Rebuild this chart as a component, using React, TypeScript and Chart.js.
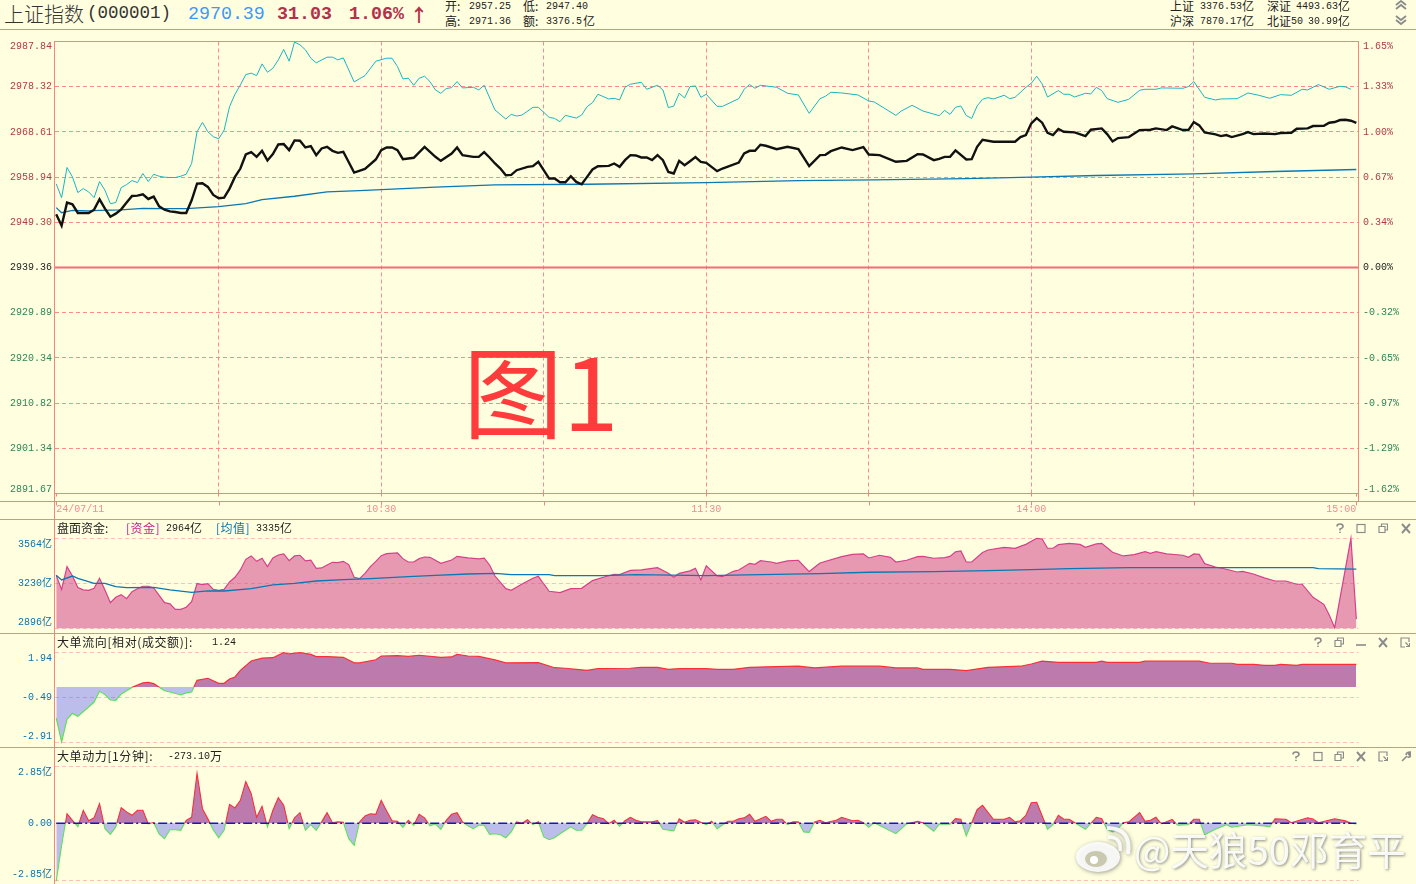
import React, { useEffect, useRef } from "react";
import { Chart, registerables } from "chart.js";

Chart.register(...registerables);

/* ---------- main panel ---------- */
const priceTickLabels = ["2987.84", "2978.32", "2968.61", "2958.94", "2949.30", "2939.36", "2929.89", "2920.34", "2910.82", "2901.34", "2891.67"];
const pctTickLabels = ["1.65%", "1.33%", "1.00%", "0.67%", "0.34%", "0.00%", "-0.32%", "-0.65%", "-0.97%", "-1.29%", "-1.62%"];
const prevClose = 2939.36;
const priceTop = 2987.84;

const xTickMinutes = [0, 30, 60, 90, 120, 150, 180, 210, 240];
const xTickLabels = ["24/07/11", "", "10:30", "", "11:30", "", "14:00", "", "15:00"];

const leaderMinutes = [0,1,2,3,4,5,6,7,8,9,10,11,12,13,14,15,16,17,18,19,20,21,22,23,24,25,26,27,28,29,30,31,32,33,34,35,36,37,38,39,40,41,42,43,44,45,46,47,48,50,51,52,53,55,57,59,61,62,63,64,65,66,67,68,69,70,71,72,73,74,75,77,78,79,81,83,84,85,86,88,89,91,92,93,94,96,97,98,99,100,102,103,104,105,106,108,109,111,112,113,114,115,116,117,118,119,120,122,123,126,127,128,129,130,133,135,137,139,141,142,143,145,148,150,151,155,156,158,160,163,164,165,166,167,168,169,170,171,172,173,175,176,177,179,180,181,182,183,185,186,187,188,190,191,192,193,194,196,198,200,201,203,204,208,209,210,212,214,215,218,220,222,224,226,228,230,231,233,235,237,238,239];
const leaderValues = [2957.29,2954.35,2960.81,2958.8,2955.43,2956.29,2955.57,2954.35,2957.79,2955.93,2953.06,2953.28,2956.5,2957.15,2958.01,2957.58,2959.52,2957.79,2959.37,2958.94,2958.73,2958.66,2958.66,2958.94,2959.37,2961.67,2968.48,2970.49,2968.48,2967.41,2966.98,2968.84,2973.86,2976.52,2978.52,2980.75,2981.04,2980.53,2983.04,2981.25,2982.11,2983.9,2986.13,2983.62,2987.71,2987.13,2986.06,2984.26,2983.26,2984.48,2984.48,2983.9,2984.33,2979.17,2980.53,2983.62,2984.26,2984.26,2982.47,2979.82,2979.96,2978.45,2979.96,2980.39,2979.24,2977.45,2976.73,2977.74,2977.95,2979.24,2977.88,2978.02,2977.45,2978.45,2973.14,2971.21,2972.21,2971.85,2972.07,2973.72,2973.72,2971.57,2971.35,2970.63,2972.0,2971.42,2972.07,2973.86,2974.72,2976.52,2975.51,2975.66,2975.3,2978.02,2978.67,2979.1,2977.59,2978.45,2977.45,2973.65,2974.01,2976.73,2975.73,2978.17,2978.31,2975.87,2976.52,2973.93,2973.93,2975.58,2977.59,2978.6,2977.81,2978.45,2978.02,2976.73,2976.37,2972.43,2975.58,2976.09,2976.95,2976.8,2976.37,2975.08,2974.87,2972.0,2972.93,2974.15,2972.93,2971.93,2973.07,2972.21,2973.72,2974.01,2971.93,2971.35,2974.01,2975.44,2975.8,2975.51,2976.3,2975.58,2975.87,2978.02,2978.88,2980.39,2978.74,2975.94,2977.31,2976.52,2976.52,2975.94,2976.73,2976.59,2978.02,2977.31,2975.58,2974.79,2975.44,2977.38,2977.59,2977.59,2977.88,2977.81,2978.17,2979.24,2975.87,2975.3,2975.51,2975.58,2976.8,2976.3,2975.66,2976.44,2976.3,2977.59,2977.45,2978.6,2977.59,2978.24,2978.09,2977.59];

const indexMinutes = [0,1,2,3,4,5,6,7,8,9,10,11,12,13,14,15,16,17,18,19,20,21,22,23,24,25,26,27,28,29,30,31,32,33,34,35,36,37,38,39,40,41,42,43,44,45,46,47,48,49,50,51,52,53,55,57,59,60,61,62,63,64,65,66,68,70,71,73,74,75,77,78,79,80,81,82,83,84,85,87,88,89,91,92,93,94,95,96,97,98,99,100,102,103,104,105,106,107,108,109,110,111,112,113,114,115,116,117,118,119,120,122,123,126,127,128,129,130,131,133,135,137,139,141,142,143,145,147,149,150,152,155,157,159,160,162,163,164,165,166,168,169,170,171,173,177,178,179,180,181,182,183,184,185,186,188,190,191,193,194,195,196,198,200,202,203,205,206,208,209,210,211,212,214,215,216,217,219,220,221,223,225,226,228,229,231,232,234,235,236,237,238,239,240];
const indexValues = [2950.77,2948.33,2953.28,2952.92,2951.05,2951.05,2951.05,2951.77,2953.99,2951.98,2950.26,2950.91,2951.84,2953.28,2954.71,2954.78,2955.07,2954.06,2954.57,2952.49,2951.77,2951.41,2951.27,2951.05,2951.05,2953.78,2957.36,2957.44,2956.65,2954.93,2954.21,2954.35,2956.29,2958.8,2960.59,2963.6,2964.11,2963.1,2964.39,2962.31,2963.68,2965.76,2965.83,2964.54,2966.62,2966.55,2965.11,2965.4,2963.46,2964.9,2965.25,2964.39,2963.96,2964.18,2959.73,2960.52,2962.53,2964.54,2965.11,2965.11,2964.54,2962.6,2962.74,2962.89,2965.25,2963.1,2962.24,2963.82,2965.11,2963.46,2963.1,2963.1,2964.11,2962.96,2961.67,2960.59,2959.16,2959.23,2960.23,2960.95,2961.09,2962.03,2958.44,2958.44,2957.65,2957.65,2958.94,2957.72,2957.22,2958.8,2960.38,2961.09,2961.17,2961.67,2960.95,2962.39,2963.46,2963.39,2962.96,2962.96,2962.39,2963.46,2962.39,2959.87,2959.52,2962.24,2961.31,2962.17,2963.03,2962.03,2961.81,2960.02,2960.59,2961.88,2963.82,2964.39,2964.39,2965.69,2965.47,2964.75,2965.25,2964.75,2961.09,2963.46,2963.53,2964.32,2965.11,2964.54,2965.18,2963.6,2963.46,2962.03,2962.24,2963.68,2963.6,2962.39,2962.67,2963.1,2963.1,2964.47,2962.53,2962.6,2965.25,2966.76,2966.33,2966.33,2967.33,2967.77,2970.28,2971.42,2970.42,2968.27,2967.77,2969.06,2968.48,2968.34,2967.55,2968.91,2969.2,2967.98,2966.4,2967.12,2967.33,2968.84,2968.91,2969.2,2968.84,2969.63,2968.84,2968.84,2970.56,2969.85,2968.34,2967.91,2967.55,2967.77,2967.33,2967.98,2968.41,2967.98,2968.12,2967.98,2968.2,2968.27,2969.13,2969.2,2969.7,2969.77,2970.42,2970.56,2970.99,2971.06,2970.85,2970.39];

const avgMinutes = [0,1,3,6,8,12,16,20,24,30,35,38,44,50,56,60,70,81,98,120,137,151,168,180,192,210,225,240];
const avgValues = [2952.2,2951.12,2951.63,2951.49,2951.63,2951.7,2952.06,2951.99,2951.99,2952.41,2953.06,2953.92,2954.64,2955.57,2955.86,2956.07,2956.58,2957.08,2957.22,2957.58,2958.01,2958.15,2958.44,2958.73,2959.09,2959.44,2959.95,2960.38];

/* ---------- funds panel ---------- */
const fundTicks = [3564, 3230, 2896];
const fundTickLabels = ["3564亿", "3230亿", "2896亿"];
const fundMinutes = [0,1,2,3,4,5,6,7,8,9,10,11,12,13,14,15,16,17,18,19,20,21,22,23,24,25,26,27,28,29,30,31,32,33,34,35,36,37,38,39,40,41,42,43,44,45,46,47,48,49,50,51,52,53,54,55,56,57,58,59,60,61,63,64,65,66,67,68,69,71,73,74,76,78,79,80,81,83,84,86,88,89,90,91,93,95,97,99,101,103,104,106,108,110,111,113,114,115,117,118,119,120,122,123,125,126,128,129,130,132,133,135,137,139,141,145,147,149,150,152,154,155,157,159,160,162,164,165,166,167,168,169,171,172,175,177,179,181,182,183,184,185,187,189,190,192,193,195,197,199,201,202,203,205,208,209,210,211,212,214,216,218,219,221,223,225,227,229,230,232,234,235,236,239,240];
const fundValues = [3289,3185,3354,3284,3198,3181,3178,3193,3267,3181,3086,3126,3146,3116,3168,3190,3208,3208,3195,3141,3086,3077,3037,3037,3052,3094,3228,3220,3228,3185,3178,3185,3240,3275,3329,3408,3433,3393,3416,3354,3418,3440,3448,3398,3433,3438,3396,3401,3341,3344,3366,3386,3383,3393,3369,3275,3265,3304,3354,3393,3435,3450,3455,3413,3388,3388,3413,3425,3423,3378,3403,3430,3418,3411,3416,3366,3284,3190,3178,3225,3267,3282,3225,3171,3161,3190,3193,3250,3275,3297,3294,3326,3329,3341,3346,3304,3275,3304,3322,3341,3255,3359,3284,3279,3319,3329,3378,3371,3398,3388,3378,3396,3401,3317,3381,3428,3445,3448,3418,3438,3423,3388,3401,3428,3430,3416,3420,3430,3463,3470,3388,3388,3458,3477,3497,3490,3519,3564,3559,3490,3490,3517,3527,3519,3497,3522,3527,3460,3433,3443,3465,3453,3465,3448,3438,3423,3448,3445,3376,3351,3334,3314,3319,3299,3270,3247,3247,3223,3223,3126,3074,2995,2901,3564,2964];
const fundAvgMinutes = [0,1,3,4,7,9,11,13,18,21,25,28,31,36,40,44,48,53,58,65,70,76,81,84,91,92,101,107,120,130,141,150,162,172,180,187,198,232,233,240];
const fundAvgValues = [3289,3255,3284,3267,3230,3230,3205,3198,3200,3181,3163,3173,3173,3190,3218,3230,3247,3257,3265,3279,3289,3299,3304,3294,3294,3287,3287,3294,3287,3294,3302,3312,3317,3324,3331,3339,3346,3346,3339,3335];

/* ---------- flow panel ---------- */
const flowTicks = [1.94, -0.49, -2.91];
const flowTickLabels = ["1.94", "-0.49", "-2.91"];
const flowBase = 0.07;
const flowMinutes = [0,1,2,3,4,6,7,8,9,10,11,12,13,14,16,17,18,20,21,23,24,25,26,28,30,31,32,33,34,36,38,40,42,43,45,47,48,50,53,55,56,59,60,63,65,67,71,73,74,76,78,81,83,89,92,94,96,98,100,106,108,111,113,115,120,122,125,128,133,137,140,145,152,155,159,160,165,168,172,178,180,182,185,192,193,194,200,201,211,213,217,218,221,223,225,226,229,230,240];
const flowValues = [-1.6,-2.89,-1.67,-1.35,-1.51,-1.01,-0.74,-0.16,-0.34,-0.63,-0.65,-0.31,-0.13,0.05,0.29,0.32,0.25,-0.13,-0.2,-0.36,-0.25,-0.2,0.43,0.54,0.27,0.27,0.5,0.61,0.97,1.47,1.63,1.65,1.92,1.85,1.92,1.83,1.71,1.71,1.67,1.37,1.37,1.54,1.74,1.76,1.72,1.78,1.67,1.69,1.83,1.74,1.72,1.53,1.37,1.38,1.11,1.08,1.02,0.97,1.06,1.08,1.13,1.13,1.02,1.06,1.06,1.02,1.02,1.13,1.17,1.19,1.1,1.19,1.19,1.1,1.1,1.02,1.02,0.95,1.13,1.19,1.31,1.46,1.4,1.4,1.46,1.4,1.4,1.46,1.46,1.35,1.35,1.29,1.29,1.24,1.24,1.29,1.24,1.29,1.29];

/* ---------- power panel ---------- */
const powerTicks = [2.85, 0, -2.85];
const powerTickLabels = ["2.85亿", "0.00", "-2.85亿"];
const powerMinutes = [0,1,2,3,4,5,6,7,8,9,10,11,12,13,14,15,16,17,18,19,20,21,22,23,24,25,26,27,28,29,30,31,32,33,34,35,36,37,38,39,40,41,42,43,44,45,46,47,48,49,50,51,52,53,54,55,56,57,58,59,60,61,62,63,64,65,66,67,68,69,70,71,72,73,74,75,76,77,78,79,80,81,82,83,84,85,86,87,88,89,90,91,92,93,95,96,97,98,99,100,101,102,103,104,105,106,107,108,110,111,112,114,115,116,117,118,120,121,122,124,125,126,127,128,129,131,132,133,134,135,136,137,138,139,140,141,142,144,145,147,148,149,150,151,155,157,159,160,162,163,165,166,167,168,169,170,171,173,175,176,177,178,179,180,181,183,184,185,186,187,190,192,193,194,195,196,197,198,200,201,202,203,204,206,207,209,210,211,212,214,216,217,220,223,224,225,227,228,231,232,233,236,238,239,240];
const powerValues = [-2.9,-1.1,0.48,0.15,-0.17,0.65,0.13,0.28,0.98,-0.27,-0.55,-0.18,0.78,0.57,0.4,0.65,0.65,-0.03,0.03,-0.53,-0.77,-0.32,-0.32,-0.35,0.15,0.3,2.5,0.73,0.23,-0.33,-0.72,-0.35,0.95,0.77,1.15,2.08,1.48,0.3,0.85,-0.18,0.65,1.28,0.9,-0.27,0.27,0.53,-0.35,-0.07,-0.35,0.07,0.53,0.03,0.08,0.05,-0.77,-1.1,0.07,0.37,0.48,0.45,1.15,0.62,0.13,0.1,-0.2,0.15,-0.1,0.45,0.27,-0.13,-0.03,-0.3,0.15,0.45,0.53,0.07,-0.13,-0.27,-0.1,-0.1,-0.55,-0.52,-0.57,-0.72,-0.43,0.07,0,0.18,-0.07,0.07,-0.68,-0.82,-0.72,-0.52,-0.18,-0.35,-0.35,-0.02,0.43,0.3,0.23,-0.02,0.15,-0.15,0.13,0.3,0.15,0.07,0.07,0.13,-0.3,-0.38,0.23,0.05,0.15,0.18,-0.07,0.1,-0.27,0.1,0.1,0.23,0.27,0.45,0.1,0.35,0.1,0.2,0.2,-0.07,0.07,0.07,-0.43,-0.45,0.07,0.15,0.03,0.15,0.3,0.13,0.15,0.03,-0.2,0.03,-0.52,-0.03,0.1,0.03,-0.4,-0.05,-0.05,0.23,0.2,-0.63,0.03,0.68,0.9,0.2,0.2,0.3,0.07,0.13,0.4,1.03,1.05,-0.3,-0.07,0.4,0.2,0.2,-0.3,0.3,0.23,-0.3,-0.43,-0.27,0.03,0.07,0.53,0.1,0.15,0.3,-0.03,0.2,-0.1,-0.07,0.2,0.2,-0.57,-0.3,-0.07,-0.2,-0.07,-0.13,-0.18,0.23,0.2,0.03,0.28,0.22,0.03,0.23,0.12,0,-0.03];

/* ---------- axis geometry shared by the four panels ---------- */
const minuteMin = -0.22;
const minuteMax = 240.4;
const leftW = 55;
const rightW = 57.5;

const BG = "#FFFFE0";
const FRAME = "#F4847E";
const GRID = "#FF8A8A";
const GRID_SOFT = "#FFBDBD";
const AXIS_BLUE = "#0A72AE";
const UP = "#B33A4A";
const DOWN = "#2F8558";
const MONO = '"Liberation Mono","Noto Sans CJK SC",monospace';
const CJK = '"Noto Sans CJK SC",sans-serif';

const zip = (xs: number[], ys: number[]) => xs.map((x, i) => ({ x, y: ys[i] }));

// first and last labels sit inside the panel, as in the terminal software
const edgeLabel = (label: string, i: number, n: number): string | string[] => {
  if (i === 0) return ["", label];
  if (i === n - 1) return [label, ""];
  return label;
};

const noOverflow = (s: any) => {
  s.paddingTop = 0;
  s.paddingBottom = 0;
  s.paddingLeft = 0;
  s.paddingRight = 0;
};

const splitColor = (base: number, upper: string, lower: string) => (c: any) => {
  const { chart } = c;
  const area = chart.chartArea;
  if (!area) return upper;
  const span = area.bottom - area.top;
  const px = chart.scales.y ? chart.scales.y.getPixelForValue(base) : NaN;
  if (!Number.isFinite(px) || !Number.isFinite(span) || span <= 0) return upper;
  const g = chart.ctx.createLinearGradient(0, area.top, 0, area.bottom);
  const f = Math.min(1, Math.max(0, (px - area.top) / span));
  g.addColorStop(f, upper);
  g.addColorStop(f, lower);
  return g;
};

const hiddenX = { type: "linear", display: false, min: minuteMin, max: minuteMax };

const common = (padTop = 0, padRight = rightW) => ({
  responsive: false,
  animation: false,
  devicePixelRatio: 1,
  events: [],
  parsing: false,
  normalized: true,
  layout: { autoPadding: false, padding: { top: padTop, right: padRight, left: 0, bottom: 0 } },
  plugins: { legend: { display: false }, tooltip: { enabled: false }, title: { display: false } },
  elements: { point: { radius: 0 }, line: { tension: 0 } },
});

const subAxis = (ticks: number[], labels: string[], min: number, max: number) => ({
  type: "linear",
  position: "left",
  min,
  max,
  afterBuildTicks: (s: any) => { s.ticks = ticks.map((value) => ({ value })); },
  afterFit: (s: any) => { s.width = leftW; noOverflow(s); },
  border: { display: false, dash: [4, 3] },
  grid: { color: GRID_SOFT, lineWidth: 1, drawTicks: false },
  ticks: {
    autoSkip: false,
    padding: 3,
    color: AXIS_BLUE,
    font: { family: MONO, size: 10, lineHeight: 1.2 },
    callback: (_v: any, i: number) => edgeLabel(labels[i], i, labels.length),
  },
});

const stripTicks = {
  id: "stripTicks",
  afterDraw(chart: any) {
    const { ctx, chartArea, scales } = chart;
    ctx.save();
    ctx.strokeStyle = FRAME;
    ctx.lineWidth = 1;
    xTickMinutes.forEach((m) => {
      const x = Math.round(scales.x.getPixelForValue(m)) + 0.5;
      ctx.beginPath();
      ctx.moveTo(x, chartArea.bottom + 8);
      ctx.lineTo(x, chartArea.bottom + 12);
      ctx.stroke();
    });
    ctx.restore();
  },
};

function buildMain(cv: HTMLCanvasElement) {
  const span = priceTop - prevClose;
  const min = prevClose - span;
  const step = (priceTop - min) / (priceTickLabels.length - 1);
  const pos = priceTickLabels.map((_, i) => priceTop - i * step);
  const col = (i: number) => (i < 5 ? UP : i === 5 ? "#222" : DOWN);
  const yBase = {
    type: "linear",
    min,
    max: priceTop,
    afterBuildTicks: (s: any) => { s.ticks = pos.map((value) => ({ value })); },
  };
  return new Chart(cv, {
    type: "line",
    plugins: [stripTicks],
    data: {
      datasets: [
        { data: zip(indexMinutes, indexValues), borderColor: "#111", borderWidth: 2.4, order: 1 },
        { data: zip(leaderMinutes, leaderValues), borderColor: "#19B5C2", borderWidth: 1, order: 2 },
        { data: zip(avgMinutes, avgValues), borderColor: "#0A78B4", borderWidth: 1.3, order: 3 },
        { data: [{ x: minuteMin, y: prevClose }, { x: minuteMax, y: prevClose }], borderColor: "#F26C7C", borderWidth: 2, order: 4 },
      ],
    },
    options: {
      ...common(11.5, 0),
      scales: {
        x: {
          type: "linear",
          min: minuteMin,
          max: minuteMax,
          afterBuildTicks: (s: any) => { s.ticks = xTickMinutes.map((value) => ({ value })); },
          afterFit: (s: any) => { s.height = 25.5; noOverflow(s); },
          border: { display: false, dash: [4, 3] },
          grid: {
            color: (c: any) => (c.tick && (c.tick.value === 0 || c.tick.value === 240) ? "rgba(0,0,0,0)" : GRID),
            tickColor: FRAME,
            tickLength: 3,
          },
          ticks: {
            autoSkip: false,
            maxRotation: 0,
            align: "inner",
            padding: 7,
            color: "#F28C8C",
            font: { family: MONO, size: 10 },
            callback: (_v: any, i: number) => xTickLabels[i],
          },
        },
        y: {
          ...yBase,
          position: "left",
          afterFit: (s: any) => { s.width = leftW; noOverflow(s); },
          border: { display: false, dash: [4, 3] },
          grid: { color: GRID, drawTicks: false },
          ticks: {
            autoSkip: false,
            padding: 3,
            color: (c: any) => col(c.index),
            font: { family: MONO, size: 10, lineHeight: 0.9 },
            callback: (_v: any, i: number) => edgeLabel(priceTickLabels[i], i, priceTickLabels.length),
          },
        },
        y1: {
          ...yBase,
          position: "right",
          afterFit: (s: any) => { s.width = rightW; noOverflow(s); },
          border: { display: false },
          grid: { display: false, drawOnChartArea: false, drawTicks: false },
          ticks: {
            autoSkip: false,
            padding: 4.5,
            color: (c: any) => col(c.index),
            font: { family: MONO, size: 10, lineHeight: 0.9 },
            callback: (_v: any, i: number) => edgeLabel(pctTickLabels[i], i, pctTickLabels.length),
          },
        },
      },
    },
  } as any);
}

function buildFunds(cv: HTMLCanvasElement) {
  return new Chart(cv, {
    type: "line",
    data: {
      datasets: [
        { data: zip(fundAvgMinutes, fundAvgValues), borderColor: "#0A78B4", borderWidth: 1.3, order: 1 },
        {
          data: zip(fundMinutes, fundValues),
          borderColor: "#D6408A",
          borderWidth: 1.2,
          backgroundColor: "rgba(213,70,140,0.55)",
          fill: { target: { value: 2896 } },
          order: 2,
        },
      ],
    },
    options: {
      ...common(),
      scales: { x: hiddenX, y: subAxis(fundTicks, fundTickLabels, 2861.1, 3699.8) },
    },
  } as any);
}

function buildFlow(cv: HTMLCanvasElement) {
  const ch = new Chart(cv, {
    type: "line",
    data: {
      datasets: [
        {
          data: zip(flowMinutes, flowValues),
          borderColor: splitColor(flowBase, "#F5303A", "#5CE05C"),
          borderWidth: 1.2,
          fill: { target: { value: flowBase }, above: "rgba(159,66,151,0.7)", below: "rgba(90,90,255,0.4)" },
        },
      ],
    },
    options: {
      ...common(),
      scales: { x: hiddenX, y: subAxis(flowTicks, flowTickLabels, -3.163, 2.926) },
    },
  } as any);
  ch.update("none");
  return ch;
}

function buildPower(cv: HTMLCanvasElement) {
  const axis: any = subAxis(powerTicks, powerTickLabels, -3.035, 3.765);
  axis.grid = { color: (c: any) => (c.index === 1 ? "rgba(0,0,0,0)" : GRID_SOFT), drawTicks: false };
  const ch = new Chart(cv, {
    type: "line",
    data: {
      datasets: [
        { data: [{ x: 0, y: 0 }, { x: 240, y: 0 }], borderColor: "#1414C8", borderWidth: 1.5, borderDash: [9, 3, 2, 3], order: 1 },
        {
          data: zip(powerMinutes, powerValues),
          borderColor: splitColor(0, "#F5303A", "#5CE05C"),
          borderWidth: 1.1,
          fill: { target: { value: 0 }, above: "rgba(159,66,151,0.7)", below: "rgba(90,90,255,0.4)" },
          order: 2,
        },
      ],
    },
    options: {
      ...common(),
      scales: { x: hiddenX, y: axis },
    },
  } as any);
  ch.update("none");
  return ch;
}

/* ---------- page furniture ---------- */
const T = ({ x, y, size = 10, font = MONO, color = "#222", weight = 400, children, extra }: any) => (
  <span
    style={{
      position: "absolute",
      left: x,
      top: size === 10 ? y + 1 : y,
      transform: "translateY(-50%)",
      fontFamily: font,
      fontSize: size,
      fontWeight: weight,
      lineHeight: 1,
      color,
      whiteSpace: "pre",
      ...extra,
    }}
  >
    {children}
  </span>
);

const Z = (p: any) => <T size={12} font={CJK} {...p} />;

const Line = ({ x = 0, y, w = 1416, h = 1, c = FRAME }: any) => (
  <div style={{ position: "absolute", left: x, top: y, width: w, height: h, background: c }} />
);

const ICON = "#8B8B8B";
const Icon = ({ kind, x, y }: any) => {
  const s = { stroke: ICON, strokeWidth: 1.6, fill: "none" };
  let body: any = null;
  if (kind === "help") body = <path d="M2 3.5 Q2 1 5 1 Q8 1 8 3.5 Q8 5 5 6 V7.5 M5 8.8 V10" {...s} />;
  if (kind === "box") body = <rect x="1" y="1.5" width="8" height="8" {...s} strokeWidth={1.2} />;
  if (kind === "restore") body = <path d="M3.5 3 V1 H9.5 V7 H7 M1 3.5 H7 V9.5 H1 Z" {...s} strokeWidth={1.2} />;
  if (kind === "close") body = <path d="M1 1 L9 10 M9 1 L1 10" {...s} strokeWidth={1.9} />;
  if (kind === "min") body = <path d="M0 8 H10" {...s} />;
  if (kind === "pop") body = <path d="M9 5 V1 H1 V10 H5 M5.5 5.5 L9.5 9.5 M6 9.5 H9.5 V6" {...s} strokeWidth={1.2} />;
  if (kind === "wrench") body = <path d="M1 10 L6 5 M5 4 Q5 1 9.5 1 L7.5 3 L8.5 4 L10 2.5 Q10 7 6.5 6" {...s} />;
  if (kind === "up") body = <path d="M1 6 L6 2 L11 6 M1 10 L6 6 L11 10" {...s} strokeWidth={1.8} />;
  if (kind === "down") body = <path d="M1 2 L6 6 L11 2 M1 6 L6 10 L11 6" {...s} strokeWidth={1.8} />;
  const w = kind === "up" || kind === "down" ? 12 : 10;
  return (
    <svg width={w} height={12} style={{ position: "absolute", left: x - w / 2, top: y - 6 }}>
      {body}
    </svg>
  );
};

const WeiboMark = () => (
  <svg width={62} height={52} style={{ position: "absolute", left: 1072, top: 824, filter: "drop-shadow(1px 1px 2px rgba(60,60,60,.55))" }}>
    <ellipse cx="26" cy="33" rx="22" ry="15" fill="#FFFFFF" fillOpacity="0.9" />
    <ellipse cx="24" cy="35" rx="11" ry="8" fill="#C9C9B0" />
    <circle cx="22" cy="36" r="4" fill="#FFFFFF" />
    <path d="M36 13 Q50 13 48 27" stroke="#FFFFFF" strokeOpacity="0.9" strokeWidth="3.5" fill="none" />
    <path d="M35 4 Q60 4 56 30" stroke="#FFFFFF" strokeOpacity="0.9" strokeWidth="4" fill="none" />
  </svg>
);

export default function App() {
  const a = useRef<HTMLCanvasElement>(null);
  const b = useRef<HTMLCanvasElement>(null);
  const c = useRef<HTMLCanvasElement>(null);
  const d = useRef<HTMLCanvasElement>(null);

  useEffect(() => {
    const charts = [buildMain(a.current!), buildFunds(b.current!), buildFlow(c.current!), buildPower(d.current!)];
    return () => charts.forEach((ch) => ch.destroy());
  }, []);

  const canvasAt = (top: number): React.CSSProperties => ({ position: "absolute", left: 0, top, display: "block" });
  const wide = { letterSpacing: 0.6 };

  return (
    <div style={{ position: "fixed", left: 0, top: 0, width: 1416, height: 884, background: BG, overflow: "hidden" }}>
      <canvas ref={a} width={1416} height={489} style={canvasAt(30)} />
      <canvas ref={b} width={1416} height={113} style={canvasAt(520)} />
      <canvas ref={c} width={1416} height={113} style={canvasAt(634)} />
      <canvas ref={d} width={1416} height={136} style={canvasAt(748)} />

      {/* frame */}
      <Line y={29} />
      <Line x={55} y={41} w={1304} />
      <Line x={55} y={493} w={1304} />
      <Line y={501} />
      <Line y={519} />
      <Line y={633} />
      <Line y={747} />
      <Line x={54} y={41} w={1} h={843} />
      <Line x={1358} y={41} w={1} h={460} />

      {/* header */}
      <T x={4} y={14} size={20} font={CJK} color="#333" weight={300}>上证指数</T>
      <T x={87} y={14} size={17.5} color="#333">(000001)</T>
      <T x={188} y={14} size={18.3} color="#3C98FF">2970.39</T>
      <T x={277} y={14} size={18.3} color="#B5304A" weight={700}>31.03</T>
      <T x={349} y={14} size={18.3} color="#B5304A" weight={700}>1.06%</T>
      <T x={410} y={14} size={18} color="#B5304A" weight={700} font={CJK}>↑</T>

      <Z x={445} y={6}>开:</Z><T x={469} y={6}>2957.25</T>
      <Z x={523} y={6}>低:</Z><T x={546} y={6}>2947.40</T>
      <Z x={445} y={21}>高:</Z><T x={469} y={21}>2971.36</T>
      <Z x={523} y={21}>额:</Z><T x={546} y={21}>3376.5</T><Z x={583} y={21}>亿</Z>

      <Z x={1170} y={6}>上证</Z><T x={1200} y={6}>3376.53</T><Z x={1242} y={6}>亿</Z>
      <Z x={1267} y={6}>深证</Z><T x={1296} y={6}>4493.63</T><Z x={1338} y={6}>亿</Z>
      <Z x={1170} y={21}>沪深</Z><T x={1200} y={21}>7870.17</T><Z x={1242} y={21}>亿</Z>
      <Z x={1267} y={21}>北证</Z><T x={1291} y={21}>50</T><T x={1308} y={21}>30.99</T><Z x={1338} y={21}>亿</Z>
      <Icon kind="up" x={1401} y={5} />
      <Icon kind="down" x={1401} y={20} />

      {/* panel titles */}
      <Z x={57} y={528}>盘面资金:</Z>
      <Z x={126} y={528} color="#C8208A" extra={{ letterSpacing: 0.5 }}>[资金]</Z>
      <T x={166} y={528}>2964</T><Z x={190} y={528}>亿</Z>
      <Z x={216} y={528} color="#0A72AE" extra={{ letterSpacing: 0.5 }}>[均值]</Z>
      <T x={256} y={528}>3335</T><Z x={280} y={528}>亿</Z>

      <Z x={57} y={642} extra={wide}>大单流向[相对(成交额)]:</Z>
      <T x={212} y={642}>1.24</T>

      <Z x={57} y={756} extra={wide}>大单动力[1分钟]:</Z>
      <T x={168} y={756}>-273.10</T><Z x={210} y={756}>万</Z>

      {/* panel buttons */}
      <Icon kind="help" x={1340} y={529} /><Icon kind="box" x={1361} y={529} /><Icon kind="restore" x={1383} y={529} /><Icon kind="close" x={1406} y={529} />
      <Icon kind="help" x={1318} y={643} /><Icon kind="restore" x={1339} y={643} /><Icon kind="min" x={1361} y={643} /><Icon kind="close" x={1383} y={643} /><Icon kind="pop" x={1405} y={643} />
      <Icon kind="help" x={1296} y={757} /><Icon kind="box" x={1318} y={757} /><Icon kind="restore" x={1339} y={757} /><Icon kind="close" x={1361} y={757} /><Icon kind="pop" x={1383} y={757} /><Icon kind="wrench" x={1406} y={757} />

      {/* overlays */}
      <T x={463} y={388} size={100} font={CJK} color="#FF3B3B">图1</T>
      <WeiboMark />
      <T x={1134} y={848} size={38.5} font={CJK} color="rgba(255,255,255,0.92)" extra={{ textShadow: "1px 1px 3px rgba(60,60,60,.6)" }}>@天狼50邓育平</T>
    </div>
  );
}
